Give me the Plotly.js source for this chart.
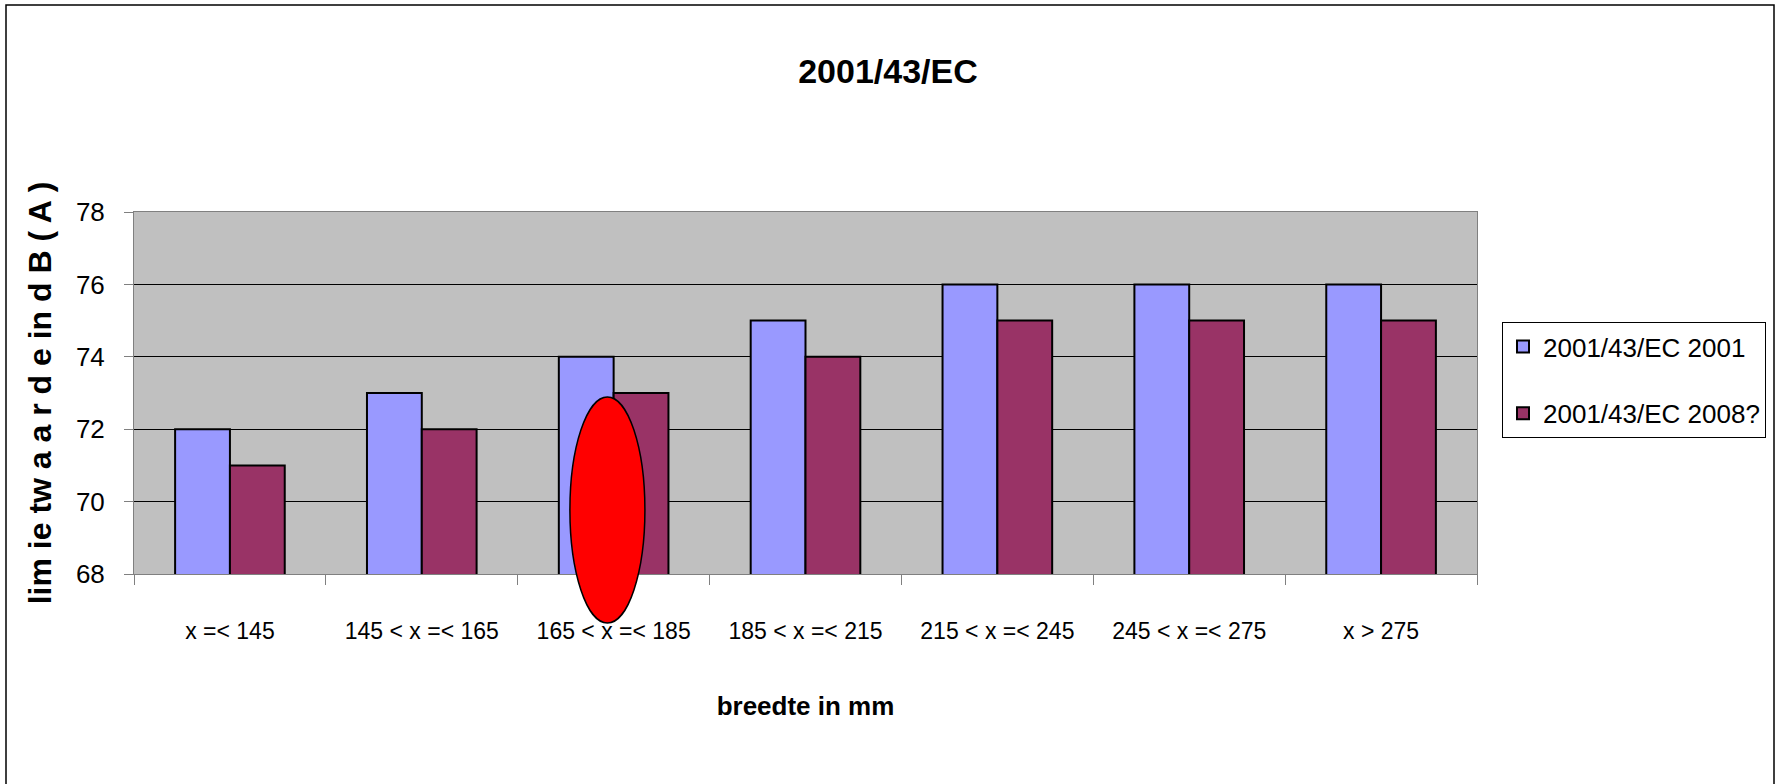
<!DOCTYPE html>
<html>
<head>
<meta charset="utf-8">
<script src="https://cdn.plot.ly/plotly-3.0.1.min.js"></script>
<style>
  html, body { margin: 0; padding: 0; background: #fff; overflow: hidden; }
  #chart { width: 1776px; height: 784px; }
</style>
</head>
<body>
<div id="chart"></div>
<script>
const categories = ["x =< 145", "145 < x =< 165", "165 < x =< 185", "185 < x =< 215", "215 < x =< 245", "245 < x =< 275", "x > 275"];
const series2001 = [72, 73, 74, 75, 76, 76, 76];
const series2008 = [71, 72, 73, 74, 75, 75, 75];
const seriesNames = ["2001/43/EC 2001", "2001/43/EC 2008?"];
const yTicks = [68, 70, 72, 74, 76, 78];

const FONT = "'Liberation Sans', Arial, sans-serif";

const traces = [
  {
    type: 'bar', name: seriesNames[0], x: categories, y: series2001,
    marker: { color: '#9999FF', line: { color: '#000000', width: 2 } },
    legendgroup: 'a', hoverinfo: 'x+y'
  },
  {
    type: 'bar', name: seriesNames[1], x: categories, y: series2008,
    marker: { color: '#993366', line: { color: '#000000', width: 2 } },
    legendgroup: 'b', hoverinfo: 'x+y'
  }
];

const layout = {
  width: 1776, height: 784,
  margin: { l: 134, r: 299, t: 212, b: 210, pad: 0, autoexpand: false },
  paper_bgcolor: '#ffffff',
  plot_bgcolor: '#C0C0C0',
  barmode: 'group',
  bargap: 0.4286,
  bargroupgap: 0,
  font: { family: FONT, color: '#000000', size: 24 },
  title: {
    text: '<b>2001/43/EC</b>',
    font: { family: FONT, size: 34, color: '#000000' },
    x: 0.5, xref: 'container', xanchor: 'center',
    y: 1 - 71 / 784, yref: 'container', yanchor: 'middle'
  },
  xaxis: {
    type: 'category',
    tickson: 'boundaries',
    ticks: 'outside', ticklen: 10, tickcolor: '#808080', tickwidth: 1,
    showline: true, linecolor: '#808080', linewidth: 1, mirror: true,
    showgrid: false,
    tickangle: 0,
    tickfont: { family: FONT, size: 23, color: '#000000' },
    ticklabelstandoff: 36,
    title: {
      text: '<b>breedte in mm</b>',
      font: { family: FONT, size: 26, color: '#000000' },
      standoff: 54
    },
    automargin: false,
    fixedrange: true
  },
  yaxis: {
    range: [68, 78],
    tickvals: yTicks,
    ticktext: yTicks.map(String),
    ticks: 'outside', ticklen: 9, tickcolor: '#808080', tickwidth: 1,
    showline: true, linecolor: '#808080', linewidth: 1, mirror: true,
    showgrid: true, gridcolor: '#000000', gridwidth: 1,
    zeroline: false,
    tickfont: { family: FONT, size: 26, color: '#000000' },
    ticklabelstandoff: 14,
    title: {
      text: '<b>lim ie tw a a r d e in d B ( A )</b>',
      font: { family: FONT, size: 32, color: '#000000' },
      standoff: 14
    },
    automargin: false,
    fixedrange: true
  },
  showlegend: true,
  legend: {
    x: (1502 - 134) / 1343, xanchor: 'left',
    y: (574 - 322) / 362, yanchor: 'top',
    bordercolor: '#000000', borderwidth: 1,
    bgcolor: '#ffffff',
    font: { family: FONT, size: 26, color: '#000000' },
    traceorder: 'grouped',
    tracegroupgap: 30,
    itemclick: false, itemdoubleclick: false
  },
  shapes: [
    {
      type: 'rect', xref: 'paper', yref: 'paper',
      x0: (6 - 134) / 1343, x1: (1774 - 134) / 1343,
      y0: (574 - 800) / 362, y1: (574 - 5) / 362,
      line: { color: '#000000', width: 1.5 }, fillcolor: 'rgba(0,0,0,0)',
      layer: 'above'
    },
    {
      type: 'circle', xref: 'x', yref: 'paper',
      x0: 1.772, x1: 2.163,
      y0: (574 - 623) / 362, y1: (574 - 397) / 362,
      fillcolor: '#FF0000', line: { color: '#000000', width: 1.5 },
      layer: 'above'
    }
  ]
};

Plotly.newPlot('chart', traces, layout, { displayModeBar: false, responsive: false });
</script>
</body>
</html>
